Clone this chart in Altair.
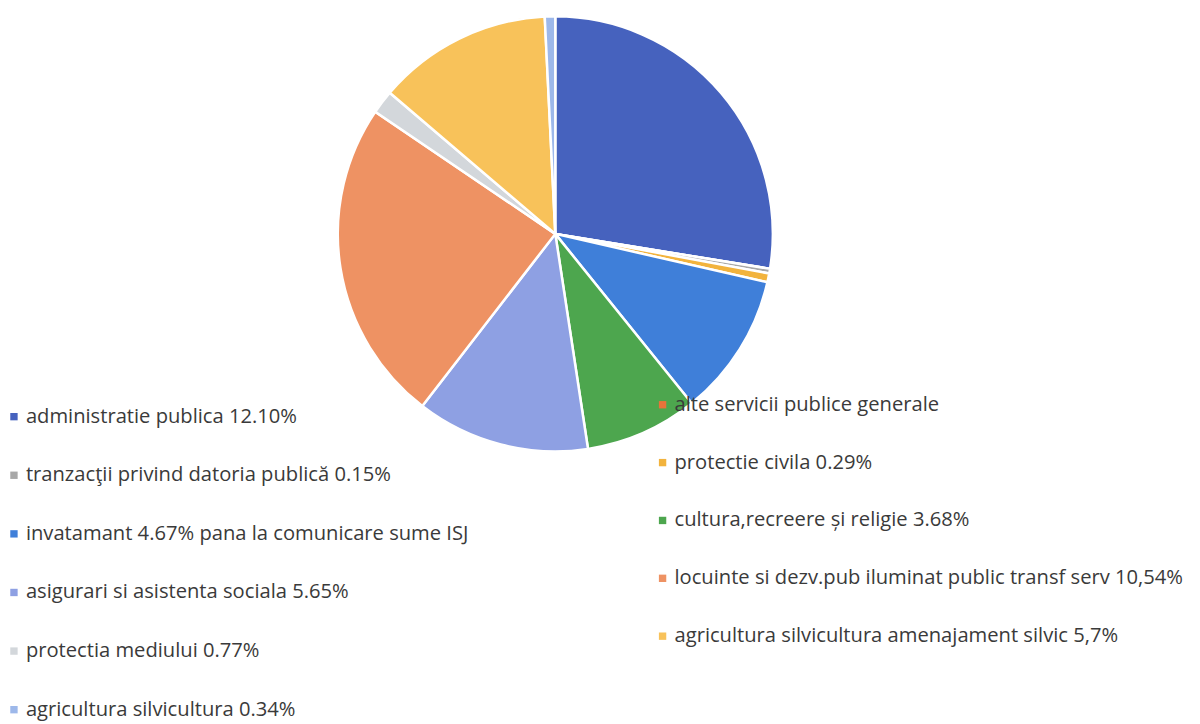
import altair as alt
import pandas as pd

# Slices in clockwise order from 12 o'clock
labels = [
    "administratie publica 12.10%",
    "alte servicii publice generale",
    "tranzacţii privind datoria publică 0.15%",
    "protectie civila 0.29%",
    "invatamant  4.67% pana la comunicare sume ISJ",
    "cultura,recreere și religie 3.68%",
    "asigurari si asistenta sociala 5.65%",
    "locuinte si dezv.pub iluminat public transf serv 10,54%",
    "protectia mediului 0.77%",
    "agricultura silvicultura amenajament silvic 5,7%",
    "agricultura silvicultura 0.34%",
]
values = [12.10, 0.0, 0.15, 0.29, 4.67, 3.68, 5.65, 10.54, 0.77, 5.7, 0.34]
colors = ["#4662BE", "#E8733A", "#A8A8A8", "#F2B33D", "#3F7FD9", "#4DA64E",
          "#8EA0E3", "#EE9263", "#D3D7DB", "#F8C25A", "#9DB8EA"]
# legend placement (column, row)
legend_col = [0, 1, 0, 1, 0, 1, 0, 1, 0, 1, 0]
legend_row = [0, 0, 1, 1, 2, 2, 3, 3, 4, 4, 5]

df = pd.DataFrame({
    "label": labels,
    "value": values,
    "order": list(range(len(labels))),
    "col": legend_col,
    "row": legend_row,
})

color_scale = alt.Scale(domain=labels, range=colors)

pie = alt.Chart(df).mark_arc(outerRadius=219, stroke="white", strokeWidth=2.5).encode(
    theta=alt.Theta("value:Q", stack=True),
    order=alt.Order("order:Q"),
    color=alt.Color("label:N", scale=color_scale, legend=None),
    x=alt.value(551),
    y=alt.value(225),
)

xs = alt.Scale(domain=[0, 1], range=[6, 659])


def legend_column(col, y_range, n_rows):
    sub = df[df["col"] == col]
    ys = alt.Scale(domain=[0, n_rows - 1], range=y_range)
    base = alt.Chart(sub).encode(
        x=alt.X("col:Q", scale=xs, axis=None),
        y=alt.Y("row:Q", scale=ys, axis=None),
    )
    m = base.mark_square(size=55, opacity=1).encode(
        color=alt.Color("label:N", scale=color_scale, legend=None),
    )
    t = base.mark_text(
        align="left", baseline="middle", dx=12, fontSize=20.3,
        font="Open Sans", color="#3a3a3a"
    ).encode(text="label:N")
    return alt.layer(m, t)


left = legend_column(0, [409, 704], 6)
right = legend_column(1, [397, 630], 5)

chart = alt.layer(pie, left, right).resolve_scale(y="independent").properties(
    width=1192, height=716, padding=0,
    autosize=alt.AutoSizeParams(type="none"),
).configure_view(stroke=None)

chart.save("out.html", embed_options={"renderer": "svg", "actions": False})
